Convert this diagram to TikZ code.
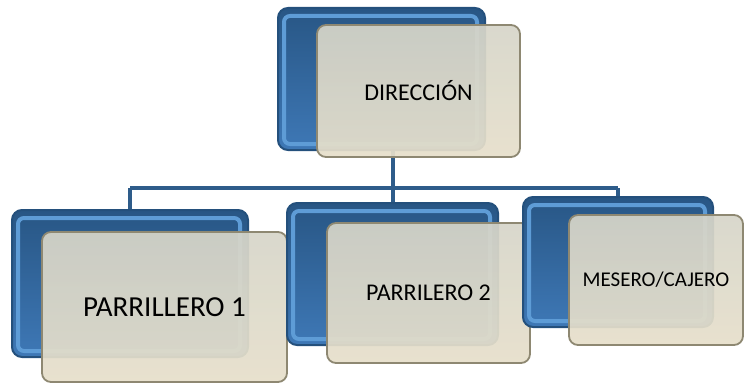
\documentclass[tikz,border=0pt]{standalone}
\usepackage{fontspec}
\setmainfont{Carlito}
\usepackage{tikz}
\usetikzlibrary{backgrounds}

\definecolor{blueedge}{HTML}{24507C}
\definecolor{bluemid}{HTML}{3E78B6}
\definecolor{bluelight}{HTML}{5E9CD6}
\definecolor{beigetop}{HTML}{D6D5C9}
\definecolor{beigebot}{HTML}{E6DFCA}
\definecolor{beigeedge}{HTML}{8E8872}
\definecolor{linkblue}{HTML}{2E5C8A}

\begin{document}
\begin{tikzpicture}[x=1pt,y=1pt]
	  \tikzset{backbox/.style={draw=blueedge, line width=2pt, rounded corners=10pt,
	  		top color=blueedge!85!bluemid, bottom color=bluemid,
	  		path picture={\draw[bluelight, line width=4pt, rounded corners=6pt]
	  			([shift={(6pt,-8pt)}]path picture bounding box.north west) rectangle
	  			([shift={(-8pt,6pt)}]path picture bounding box.south east);}},
	  	frontbox/.style={draw=beigeedge, line width=1.8pt, rounded corners=9pt,
	  		top color=beigetop, bottom color=beigebot, fill opacity=0.93, text opacity=1,
	  		align=center, font=\fontsize{24}{28}\selectfont},
	  	link/.style={draw=linkblue, line width=4pt},
	  }
	  \useasboundingbox (0,0) rectangle (745,384);
	  \coordinate (bus) at (0,196);
	  
	  %% top box
	  \node [backbox, minimum width=207pt, minimum height=142pt] (dirback) at (381.5,305) {};
	  \node [frontbox, minimum width=203pt, minimum height=132pt] (dir) at (418.5,293) {DIRECCIÓN};
	  
	  %% lower boxes
	  \node [backbox, minimum width=236pt, minimum height=147pt] (p1back) at (130,100.5) {};
	  \node [frontbox, minimum width=245pt, minimum height=150pt, font=\fontsize{29}{33}\selectfont] (p1) at (164.5,77) {PARRILLERO 1};
	  \node [backbox, minimum width=211pt, minimum height=142pt] (p2back) at (392.5,110) {};
	  \node [frontbox, minimum width=203pt, minimum height=140pt] (p2) at (428.5,91) {PARRILERO 2};
	  \node [backbox, minimum width=190pt, minimum height=130pt] (mesback) at (618,122) {};
	  \node [frontbox, minimum width=174pt, minimum height=130pt, font=\fontsize{21}{25}\selectfont] (mes) at (656,104) {MESERO/CAJERO};
	  
	  %% paths
	  \begin{pgfonlayer}{background}
	  \path[link] ([yshift=14pt]dir.south -| p2back.north) -- (p2back.north |- bus);
	  \end{pgfonlayer}
	  \path[link] (p1back.north |- bus) -- (mesback.north |- bus);
	  \path[link] (p1back.north |- bus) edge (p1back.north)
	  (p2back.north |- bus) edge (p2back.north)
	  (mesback.north |- bus) edge (mesback.north)
	  ;
\end{tikzpicture}
\end{document}
